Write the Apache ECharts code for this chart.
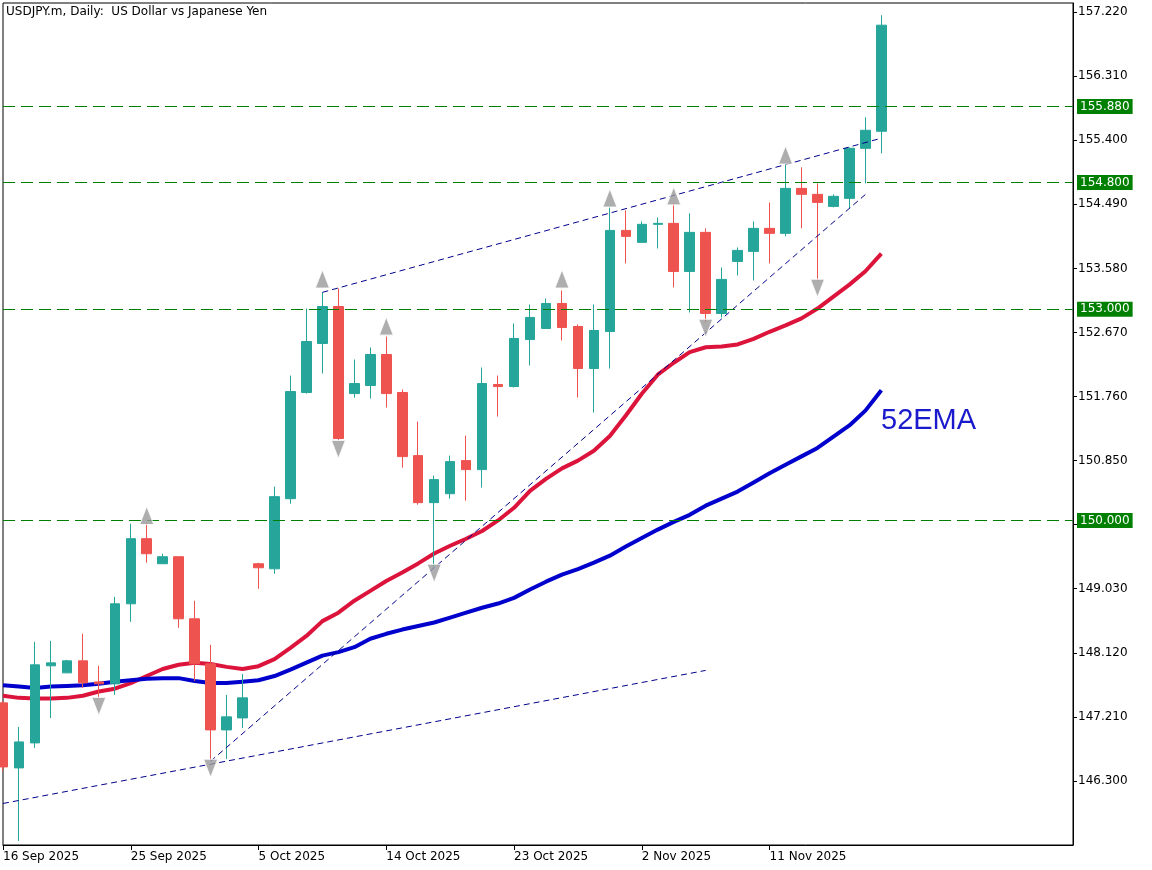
<!DOCTYPE html>
<html>
<head>
<meta charset="utf-8">
<script src="https://cdn.jsdelivr.net/npm/echarts@6/dist/echarts.min.js"></script>
<style>
  html, body { margin: 0; padding: 0; background: #fff; }
  #chart { width: 1152px; height: 870px; }
</style>
</head>
<body>
<div id="chart"></div>
<script>
// dates (Sun-Fri bars), padded with blanks for the empty area on the right
const dates = ['16 Sep 2025','17 Sep','18 Sep','19 Sep','21 Sep','22 Sep','23 Sep','24 Sep',
  '25 Sep 2025','26 Sep','28 Sep','29 Sep','30 Sep','1 Oct','2 Oct','3 Oct',
  '5 Oct 2025','6 Oct','7 Oct','8 Oct','9 Oct','10 Oct','12 Oct','13 Oct',
  '14 Oct 2025','15 Oct','16 Oct','17 Oct','19 Oct','20 Oct','21 Oct','22 Oct',
  '23 Oct 2025','24 Oct','26 Oct','27 Oct','28 Oct','29 Oct','30 Oct','31 Oct',
  '2 Nov 2025','3 Nov','4 Nov','5 Nov','6 Nov','7 Nov','9 Nov','10 Nov',
  '11 Nov 2025','12 Nov','13 Nov','14 Nov','16 Nov','17 Nov','18 Nov','19 Nov',
  '','','','','','','','','','',''];

const open  = [147.409,146.485,146.840,147.935,147.835,148.006,147.707,147.679,148.816,149.741,149.385,149.485,148.603,147.963,147.025,147.195,
  149.385,149.313,150.309,151.817,152.514,153.039,151.802,151.916,152.357,151.817,150.921,150.253,150.380,150.850,150.722,151.931,
  151.902,152.570,152.727,153.082,152.755,152.158,152.684,154.120,153.950,154.206,154.220,153.537,154.092,152.940,153.679,153.822,
  154.149,154.078,154.717,154.632,154.461,154.575,155.286,155.528];
const close = [146.499,146.854,147.949,147.977,148.006,147.693,147.679,148.816,149.741,149.527,149.485,148.603,147.963,147.025,147.210,147.480,
  149.328,150.338,151.831,152.542,153.039,151.163,151.945,152.357,151.802,150.907,150.253,150.580,150.836,150.722,151.945,151.902,
  152.585,152.884,153.082,152.741,152.158,152.698,154.120,154.035,154.206,154.220,153.537,154.092,152.940,153.424,153.836,154.149,
  154.078,154.717,154.632,154.518,154.604,155.286,155.542,157.035];
const low   = [146.442,145.447,146.769,147.195,147.835,147.622,147.466,147.523,148.560,149.399,149.385,148.475,147.721,146.598,146.613,147.053,
  149.029,149.242,150.238,151.802,152.087,151.134,151.745,151.731,151.603,150.750,150.224,149.328,150.309,150.281,150.466,151.475,
  151.888,152.201,152.727,152.556,151.745,151.532,152.158,153.651,153.950,153.864,153.310,152.954,152.812,152.883,153.481,153.409,
  153.651,154.035,154.149,153.409,154.447,154.433,154.788,155.215];
const high  = [147.437,147.068,148.276,148.290,148.020,148.390,147.935,148.915,149.954,149.968,149.527,149.485,148.859,148.233,147.523,147.821,
  149.399,150.480,152.058,153.011,153.239,153.295,152.286,152.457,152.613,151.859,151.404,150.637,150.921,151.205,152.172,152.058,
  152.798,153.068,153.153,153.267,152.784,153.068,154.447,154.405,154.248,154.305,154.504,154.362,154.149,153.594,153.878,154.248,
  154.518,155.073,155.016,154.788,154.632,155.300,155.727,157.177];

const emaRed  = [147.51,147.48,147.47,147.47,147.48,147.51,147.57,147.61,147.69,147.79,147.89,147.95,147.98,147.96,147.92,147.89,
  147.93,148.03,148.19,148.36,148.57,148.69,148.86,149.00,149.14,149.26,149.39,149.53,149.64,149.74,149.85,150.00,
  150.18,150.42,150.59,150.74,150.85,150.99,151.20,151.49,151.80,152.07,152.24,152.39,152.46,152.47,152.50,152.58,
  152.68,152.77,152.87,153.01,153.18,153.35,153.54,153.79];
const ema52   = [147.66,147.64,147.62,147.64,147.65,147.66,147.68,147.71,147.73,147.75,147.76,147.76,147.72,147.69,147.69,147.71,
  147.73,147.79,147.88,147.98,148.08,148.13,148.20,148.32,148.39,148.45,148.50,148.55,148.62,148.69,148.76,148.82,
  148.90,149.02,149.13,149.23,149.31,149.40,149.50,149.63,149.75,149.87,149.98,150.08,150.21,150.31,150.41,150.54,
  150.67,150.79,150.91,151.03,151.19,151.35,151.56,151.85];

const levels = [155.880, 154.800, 153.000, 150.000];
// fractal markers [index, price]
const upMarks   = [[9,150.07],[20,153.43],[24,152.76],[35,153.43],[38,154.58],[42,154.61],[49,155.19]];
const downMarks = [[1,145.33],[6,147.36],[13,146.48],[21,151.01],[27,149.25],[44,152.73],[51,153.30]];
// trend lines [[index, price],[index, price]]
const trends = [
  [[20,153.24],[55,155.43]],
  [[0,145.98],[44,147.87]],
  [[13,146.58],[54,154.63]]
];

const ohlc = open.map((o, i) => [o, close[i], low[i], high[i]]);
const lastPrice = close[close.length - 1];
const showTick = (i, v) => v !== '' && i % 8 === 0;

const chart = echarts.init(document.getElementById('chart'));
chart.setOption({
  animation: false,
  grid: { left: 3, right: 79, top: 3, bottom: 25, show: true, borderColor: '#000', borderWidth: 1 },
  xAxis: {
    type: 'category', data: dates, boundaryGap: false, max: 66.875,
    axisLine: { lineStyle: { color: '#000' } },
    axisTick: { interval: showTick, length: 5, lineStyle: { color: '#000' } },
    axisLabel: { interval: showTick, align: 'left', color: '#000', fontSize: 12, fontFamily: 'DejaVu Sans', margin: 6 },
    splitLine: { show: false }
  },
  yAxis: {
    type: 'value', position: 'right', min: 145.39, max: 157.35, interval: 0.91,
    axisLine: { show: true, lineStyle: { color: '#000' } },
    axisTick: { show: true, length: 4, lineStyle: { color: '#000' } },
    axisLabel: { showMinLabel: false, showMaxLabel: false, color: '#000', fontSize: 12, fontFamily: 'DejaVu Sans', margin: 5,
      formatter: v => v.toFixed(3) },
    splitLine: { show: false }
  },
  series: [
    {
      type: 'line', data: emaRed, symbol: 'none', z: 3,
      lineStyle: { color: '#dc143c', width: 4 }
    },
    {
      type: 'line', data: ema52, symbol: 'none', z: 3,
      lineStyle: { color: '#0000cd', width: 4 }
    },
    {
      type: 'candlestick', data: ohlc, barWidth: 10, z: 4,
      itemStyle: { color: '#26a69a', color0: '#ef5350', borderColor: '#26a69a', borderColor0: '#ef5350', borderWidth: 1 },
      markLine: {
        symbol: 'none', silent: true,
        lineStyle: { color: '#00008b', type: [6, 4], width: 1 },
        label: { show: false },
        data: trends.map(t => [{ coord: [t[0][0], t[0][1]] }, { coord: [t[1][0], t[1][1]] }])
      }
    },
    {
      type: 'line', data: [], z: 2,
      markLine: {
        symbol: 'none', silent: true,
        lineStyle: { color: '#008000', type: [12, 6], width: 1 },
        label: {
          position: 'end', distance: 4, color: '#fff', backgroundColor: '#008000',
          padding: [2, 3, 1, 3], fontSize: 12, fontFamily: 'DejaVu Sans', formatter: p => p.value.toFixed(3)
        },
        data: levels.map(v => ({ yAxis: v }))
      }
    },
    {
      type: 'line', data: [], z: 2,
      markLine: {
        symbol: 'none', silent: true,
        lineStyle: { opacity: 0 },
        label: {
          position: 'end', distance: 4, color: '#fff', backgroundColor: '#000',
          padding: [2, 3, 1, 3], fontSize: 12, fontFamily: 'DejaVu Sans', formatter: p => p.value.toFixed(3)
        },
        data: [{ yAxis: lastPrice }]
      }
    },
    {
      type: 'scatter', data: upMarks, symbol: 'triangle', symbolSize: [14, 18], z: 5,
      itemStyle: { color: '#9a9a9a', borderColor: '#ffffff', borderWidth: 1 }
    },
    {
      type: 'scatter', data: downMarks, symbol: 'triangle', symbolRotate: 180, symbolSize: [14, 18], z: 5,
      itemStyle: { color: '#9a9a9a', borderColor: '#ffffff', borderWidth: 1 }
    }
  ],
  graphic: [
    { type: 'text', left: 6, top: 6, style: { text: 'USDJPY.m, Daily:  US Dollar vs Japanese Yen', fill: '#000', fontSize: 12, fontFamily: 'DejaVu Sans' } },
    { type: 'text', left: 881, top: 406, style: { text: '52EMA', fill: '#1a1acd', fontSize: 29, fontFamily: 'Liberation Sans' } }
  ]
});
</script>
</body>
</html>
